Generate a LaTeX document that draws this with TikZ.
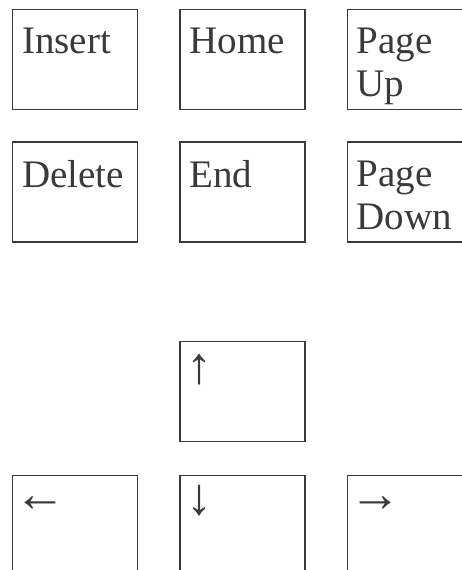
\documentclass[tikz,border=0pt]{standalone}
\usepackage{xcolor}
\usepackage{fontspec}
\setmainfont{Liberation Serif}
\usepackage{tikz}
\usetikzlibrary{positioning}
\definecolor{ink}{HTML}{3A3A3A}
\tikzset{
  keybox/.style={draw=ink, line width=1.3pt, minimum width=125pt, minimum height=100pt, inner sep=0pt},
  keytext/.style={text=ink, inner sep=0pt, align=left, font=\fontsize{39}{43}\selectfont},
  arrowtxt/.style={text=ink, inner sep=0pt, font=\fontsize{52}{52}\selectfont}
}
\begin{document}
\begin{tikzpicture}[x=1pt, y=1pt]

% Page size of the reference
\useasboundingbox (0,0) rectangle (462,-570);

% Editing keys, two rows of three
\node[keybox, anchor=north west] (insert) at (12,-9) {};
\node[keybox, right=41pt of insert] (home) {};
\node[keybox, right=41pt of home] (pgup) {};
\node[keybox, below=31pt of insert] (delete) {};
\node[keybox, below=31pt of home] (end) {};
\node[keybox, below=31pt of pgup] (pgdn) {};

% Key captions
\node[keytext, below right=19pt and 10pt of insert.north west] (tinsert) {Insert};
\node[keytext, below right=19pt and 10pt of home.north west] (thome) {Home};
\node[keytext, below right=19pt and 10pt of pgup.north west] (tpgup) {Page\\Up};
\node[keytext, below right=19pt and 10pt of delete.north west] (tdelete) {Delete};
\node[keytext, below right=19pt and 10pt of end.north west] (tend) {End};
\node[keytext, below right=19pt and 10pt of pgdn.north west] (tpgdn) {Page\\Down};

% Cursor keys, inverted T
\node[keybox, below=98pt of end] (keyup) {};
\node[keybox, below=33pt of keyup] (keydown) {};
\node[keybox, left=41pt of keydown] (keyleft) {};
\node[keybox, right=41pt of keydown] (keyright) {};

% Arrow captions
\node[arrowtxt, below right=13pt and 7pt of keyup.north west] (aup) {↑};
\node[arrowtxt, below right=10pt and 7pt of keydown.north west] (adown) {↓};
\node[arrowtxt, below right=22pt and 2pt of keyleft.north west] (aleft) {←};
\node[arrowtxt, below right=22pt and 3pt of keyright.north west] (aright) {→};

\end{tikzpicture}
\end{document}
